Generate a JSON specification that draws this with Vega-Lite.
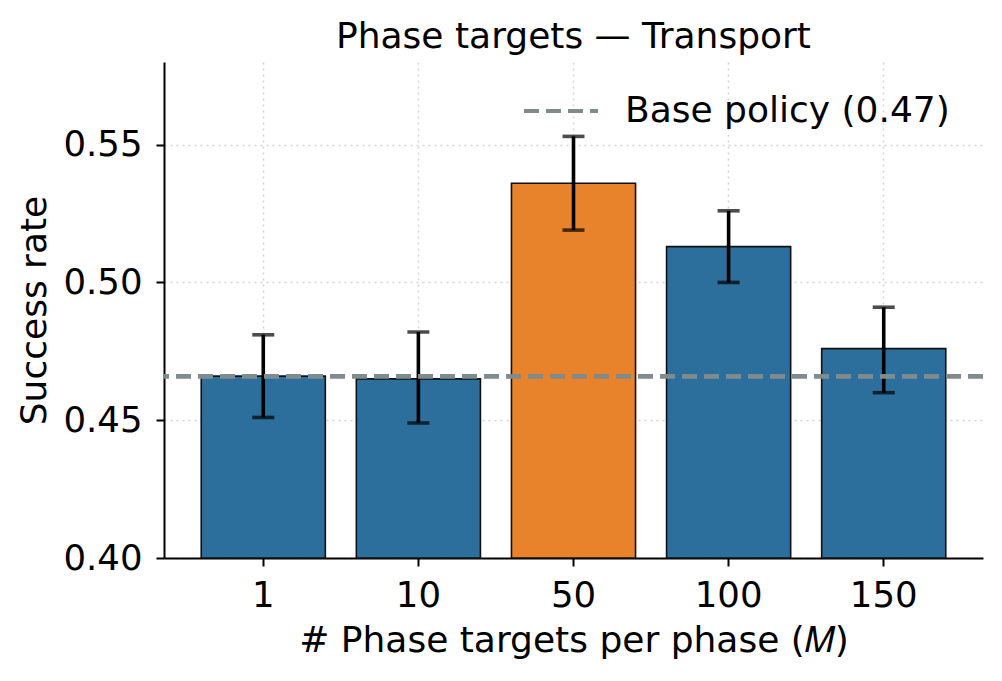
{
  "$schema": "https://vega.github.io/schema/vega-lite/v6.json",
  "width": 819,
  "height": 496,
  "autosize": {"type": "none"},
  "padding": {"left": 164, "top": 62, "right": 19, "bottom": 123},
  "background": "white",
  "config": {
    "font": "DejaVu Sans",
    "view": {"stroke": null},
    "axis": {
      "domainColor": "black",
      "domainWidth": 2,
      "tickColor": "black",
      "tickWidth": 2,
      "tickSize": 8,
      "labelColor": "black",
      "labelFontSize": 35.5,
      "titleColor": "black",
      "titleFontSize": 36,
      "titleFontWeight": "normal",
      "grid": true,
      "gridColor": "#d3d3d3",
      "gridDash": [2, 4],
      "gridWidth": 1.5,
      "zindex": 1
    },
    "legend": {
      "orient": "none",
      "legendX": 358,
      "legendY": 10,
      "padding": 0,
      "symbolType": "stroke",
      "symbolSize": 5476,
      "symbolStrokeWidth": 4,
      "symbolDash": [15, 7],
      "labelFontSize": 36,
      "labelColor": "black",
      "labelOffset": 25,
      "labelLimit": 600
    }
  },
  "title": {
    "text": "Phase targets — Transport",
    "fontSize": 36,
    "fontWeight": "normal",
    "color": "black",
    "anchor": "middle",
    "offset": 6
  },
  "data": {
    "values": [
      {"M": "1", "rate": 0.466, "lo": 0.451, "hi": 0.481, "best": "no"},
      {"M": "10", "rate": 0.465, "lo": 0.449, "hi": 0.482, "best": "no"},
      {"M": "50", "rate": 0.536, "lo": 0.519, "hi": 0.553, "best": "yes"},
      {"M": "100", "rate": 0.513, "lo": 0.5, "hi": 0.526, "best": "no"},
      {"M": "150", "rate": 0.476, "lo": 0.46, "hi": 0.491, "best": "no"}
    ]
  },
  "layer": [
    {
      "mark": {"type": "bar", "stroke": "#111111", "strokeWidth": 1.6},
      "encoding": {
        "x": {
          "field": "M",
          "type": "ordinal",
          "sort": null,
          "scale": {"paddingInner": 0.2, "paddingOuter": 0.24},
          "axis": {"labelAngle": 0, "labelPadding": 12, "titlePadding": 10},
          "title": "# Phase targets per phase (𝑀)"
        },
        "y": {
          "field": "rate",
          "type": "quantitative",
          "scale": {"domain": [0.4, 0.58], "zero": false, "nice": false},
          "axis": {"values": [0.4, 0.45, 0.5, 0.55], "format": ".2f", "labelPadding": 14, "titlePadding": 9},
          "title": "Success rate"
        },
        "y2": {"datum": 0.4},
        "color": {
          "field": "best",
          "type": "nominal",
          "scale": {"domain": ["no", "yes"], "range": ["#2c6f9d", "#e8832b"]},
          "legend": null
        }
      }
    },
    {
      "mark": {"type": "rule", "color": "black", "strokeWidth": 3.6},
      "encoding": {
        "x": {"field": "M", "type": "ordinal", "sort": null},
        "y": {"field": "lo", "type": "quantitative"},
        "y2": {"field": "hi"}
      }
    },
    {
      "mark": {"type": "tick", "color": "black", "size": 22, "thickness": 3.6},
      "encoding": {
        "x": {"field": "M", "type": "ordinal", "sort": null},
        "y": {"field": "lo", "type": "quantitative"}
      }
    },
    {
      "mark": {"type": "tick", "color": "black", "size": 22, "thickness": 3.6},
      "encoding": {
        "x": {"field": "M", "type": "ordinal", "sort": null},
        "y": {"field": "hi", "type": "quantitative"}
      }
    },
    {
      "mark": {"type": "rule", "strokeDash": [15, 7], "strokeWidth": 4},
      "encoding": {
        "y": {"datum": 0.466},
        "stroke": {
          "datum": "Base policy (0.47)",
          "type": "nominal",
          "scale": {"range": ["#7f8c8d"]},
          "legend": {"title": null}
        }
      }
    }
  ]
}
